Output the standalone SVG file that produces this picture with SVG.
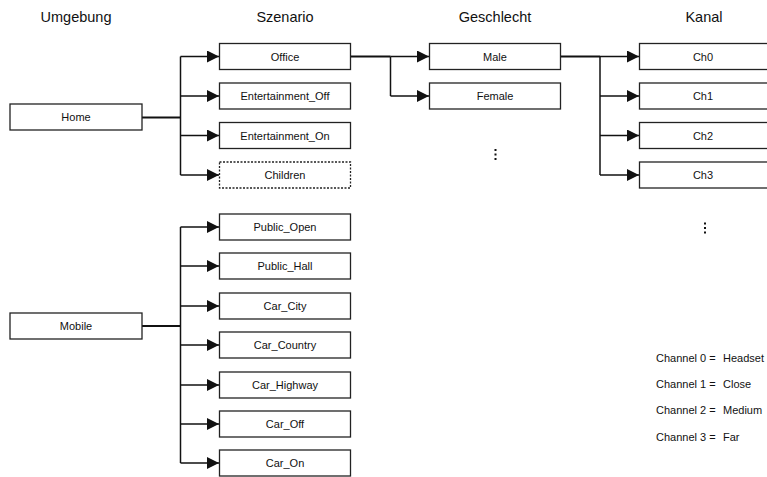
<svg xmlns="http://www.w3.org/2000/svg" width="767" height="477" viewBox="0 0 767 477">
  <style>
    .box { fill: #ffffff; stroke: #222222; stroke-width: 1.3; }
    .dashed { stroke-dasharray: 2 1.5; }
    .lbl { font-family: "Liberation Sans", Arial, sans-serif; font-size: 11px; fill: #111111; text-anchor: middle; }
    .hdr { font-family: "Liberation Sans", Arial, sans-serif; font-size: 14.5px; fill: #111111; text-anchor: middle; }
    .leg { font-family: "Liberation Sans", Arial, sans-serif; font-size: 11px; fill: #111111; }
    .wire { fill: none; stroke: #111111; stroke-width: 1.5; }
    .trunk { fill: none; stroke: #111111; stroke-width: 2.2; }
    .dot { fill: #111111; }
  </style>
  <defs>
    <marker id="arrow" markerUnits="userSpaceOnUse" markerWidth="12" markerHeight="12" viewBox="0 0 11 11" refX="11" refY="5.5" orient="auto">
      <path d="M0,0 L11,5.5 L0,11 Z" fill="#111111"/>
    </marker>
  </defs>
  <rect width="767" height="477" fill="#ffffff"/>

  <!-- column headings -->
  <g id="headings">
    <text class="hdr" x="76" y="22">Umgebung</text>
    <text class="hdr" x="285" y="22">Szenario</text>
    <text class="hdr" x="495" y="22">Geschlecht</text>
    <text class="hdr" x="704" y="22">Kanal</text>
  </g>

  <!-- connectors -->
  <g id="connectors">
    <!-- Home branch -->
    <path class="trunk" d="M142,117.5 H180.5"/>
    <path class="wire" d="M180.5,56.5 V175"/>
    <path class="wire" d="M180.5,56.5 H219" marker-end="url(#arrow)"/>
    <path class="wire" d="M180.5,96 H219" marker-end="url(#arrow)"/>
    <path class="wire" d="M180.5,135.5 H219" marker-end="url(#arrow)"/>
    <path class="wire" d="M180.5,175 H219" marker-end="url(#arrow)"/>
    <!-- Office branch -->
    <path class="trunk" d="M351,56.5 H390.5"/>
    <path class="wire" d="M390.5,56.5 V96"/>
    <path class="wire" d="M390.5,56.5 H429" marker-end="url(#arrow)"/>
    <path class="wire" d="M390.5,96 H429" marker-end="url(#arrow)"/>
    <!-- Male branch -->
    <path class="trunk" d="M561,56.5 H600"/>
    <path class="wire" d="M600,56.5 V175"/>
    <path class="wire" d="M600,56.5 H639" marker-end="url(#arrow)"/>
    <path class="wire" d="M600,96 H639" marker-end="url(#arrow)"/>
    <path class="wire" d="M600,135.5 H639" marker-end="url(#arrow)"/>
    <path class="wire" d="M600,175 H639" marker-end="url(#arrow)"/>
    <!-- Mobile branch -->
    <path class="trunk" d="M142,326 H180.5"/>
    <path class="wire" d="M180.5,227 V463"/>
    <path class="wire" d="M180.5,227 H219" marker-end="url(#arrow)"/>
    <path class="wire" d="M180.5,266 H219" marker-end="url(#arrow)"/>
    <path class="wire" d="M180.5,306 H219" marker-end="url(#arrow)"/>
    <path class="wire" d="M180.5,345 H219" marker-end="url(#arrow)"/>
    <path class="wire" d="M180.5,385 H219" marker-end="url(#arrow)"/>
    <path class="wire" d="M180.5,424 H219" marker-end="url(#arrow)"/>
    <path class="wire" d="M180.5,463 H219" marker-end="url(#arrow)"/>
  </g>

  <!-- environment nodes -->
  <g id="home"><rect class="box" x="10" y="104" width="132" height="26"/><text class="lbl" x="76" y="121">Home</text></g>
  <g id="mobile"><rect class="box" x="10" y="313" width="132" height="26"/><text class="lbl" x="76" y="330">Mobile</text></g>

  <!-- scenario nodes -->
  <g id="office"><rect class="box" x="219.5" y="43.5" width="131" height="26"/><text class="lbl" x="285" y="60.5">Office</text></g>
  <g id="entertainment-off"><rect class="box" x="219.5" y="83" width="131" height="26"/><text class="lbl" x="285" y="100">Entertainment_Off</text></g>
  <g id="entertainment-on"><rect class="box" x="219.5" y="122.5" width="131" height="26"/><text class="lbl" x="285" y="139.5">Entertainment_On</text></g>
  <g id="children"><rect class="box dashed" x="219.5" y="162" width="131" height="26"/><text class="lbl" x="285" y="179">Children</text></g>

  <g id="public-open"><rect class="box" x="219.5" y="214" width="131" height="26"/><text class="lbl" x="285" y="231">Public_Open</text></g>
  <g id="public-hall"><rect class="box" x="219.5" y="253" width="131" height="26"/><text class="lbl" x="285" y="270">Public_Hall</text></g>
  <g id="car-city"><rect class="box" x="219.5" y="293" width="131" height="26"/><text class="lbl" x="285" y="310">Car_City</text></g>
  <g id="car-country"><rect class="box" x="219.5" y="332" width="131" height="26"/><text class="lbl" x="285" y="349">Car_Country</text></g>
  <g id="car-highway"><rect class="box" x="219.5" y="372" width="131" height="26"/><text class="lbl" x="285" y="389">Car_Highway</text></g>
  <g id="car-off"><rect class="box" x="219.5" y="411" width="131" height="26"/><text class="lbl" x="285" y="428">Car_Off</text></g>
  <g id="car-on"><rect class="box" x="219.5" y="450" width="131" height="26"/><text class="lbl" x="285" y="467">Car_On</text></g>

  <!-- gender nodes -->
  <g id="male"><rect class="box" x="429.5" y="43.5" width="131" height="26"/><text class="lbl" x="495" y="60.5">Male</text></g>
  <g id="female"><rect class="box" x="429.5" y="83" width="131" height="26"/><text class="lbl" x="495" y="100">Female</text></g>

  <!-- channel nodes -->
  <g id="ch0"><rect class="box" x="639.5" y="43.5" width="131" height="26"/><text class="lbl" x="703" y="60.5">Ch0</text></g>
  <g id="ch1"><rect class="box" x="639.5" y="83" width="131" height="26"/><text class="lbl" x="703" y="100">Ch1</text></g>
  <g id="ch2"><rect class="box" x="639.5" y="122.5" width="131" height="26"/><text class="lbl" x="703" y="139.5">Ch2</text></g>
  <g id="ch3"><rect class="box" x="639.5" y="162" width="131" height="26"/><text class="lbl" x="703" y="179">Ch3</text></g>

  <!-- continuation marks -->
  <g id="more-gender">
    <rect class="dot" x="494.5" y="149" width="2" height="2"/>
    <rect class="dot" x="494.5" y="153.5" width="2" height="2"/>
    <rect class="dot" x="494.5" y="158" width="2" height="2"/>
  </g>
  <g id="more-channel">
    <rect class="dot" x="704" y="222.5" width="2" height="2"/>
    <rect class="dot" x="704" y="227" width="2" height="2"/>
    <rect class="dot" x="704" y="231.5" width="2" height="2"/>
  </g>

  <!-- channel legend -->
  <g id="legend">
    <text class="leg" x="656" y="362">Channel 0 =</text><text class="leg" x="723" y="362">Headset</text>
    <text class="leg" x="656" y="388">Channel 1 =</text><text class="leg" x="723" y="388">Close</text>
    <text class="leg" x="656" y="414">Channel 2 =</text><text class="leg" x="723" y="414">Medium</text>
    <text class="leg" x="656" y="441">Channel 3 =</text><text class="leg" x="723" y="441">Far</text>
  </g>
</svg>
